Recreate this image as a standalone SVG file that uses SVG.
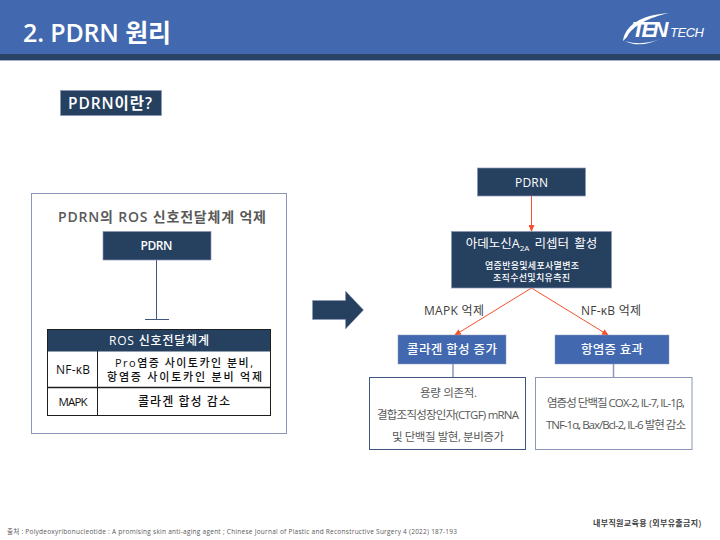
<svg xmlns="http://www.w3.org/2000/svg" width="720" height="540" viewBox="0 0 720 540">
<defs>
<marker id="ah" markerWidth="7" markerHeight="6" refX="6" refY="3" orient="auto" markerUnits="userSpaceOnUse"><path d="M0 0L7 3L0 6Z" fill="#F4512C"/></marker>
</defs>
<style>
text{font-family:"Open Sans","Noto Sans CJK KR","Noto Sans",sans-serif;text-anchor:middle}
.navy{fill:#264060;stroke:#8C96B8;stroke-width:.7}
.blue{fill:#4269B0;stroke:#8C96B8;stroke-width:.5}
.w{fill:#fff}
.g{fill:#595959}
.b{fill:#111}
.wbox{fill:#fff;stroke:#3F5680;stroke-width:1}
.red{stroke:#F4512C;stroke-width:1;fill:none;marker-end:url(#ah)}
.gl{stroke:#8C96B8;stroke-width:1.5;fill:none}
</style>
<g id="header">
<rect x="0" y="0" width="720" height="54" fill="#4269B0"/>
<rect x="0" y="54" width="720" height="6" fill="#2A4466"/>
<rect x="0" y="60" width="720" height="1" fill="#A5ABC8"/>
<text x="97" y="42" font-size="25" font-weight="600" class="w" textLength="148">2. PDRN 원리</text>
</g>
<g id="logo">
<path d="M623 41C625 26 640 15 669 13C650 17 632 26 627 37Z" fill="#fff"/>
<path d="M625 41C638 45 650 43 660 39C650 44 636 47 625 41Z" fill="#fff"/>
<text x="650" y="37" font-size="22" font-weight="700" font-style="italic" class="w" style="font-family:'Liberation Sans',sans-serif" textLength="37">TEN</text>
<text x="687" y="37" font-size="13" font-style="italic" class="w" style="font-family:'Liberation Sans',sans-serif" textLength="34">TECH</text>
</g>
<g id="pdrn-q">
<rect class="navy" x="60.500" y="90.500" width="101" height="25"/>
<text x="110" y="109" font-size="15.500" font-weight="600" class="w" textLength="84">PDRN이란?</text>
</g>
<g id="connectors">
<path class="gl" d="M156.500 260V319" style="stroke:#3F5680;stroke-width:1"/>
<path class="gl" d="M145 319.500H169" style="stroke:#3F5680;stroke-width:1"/>
<path class="red" d="M531.500 196V231"/>
<path class="red" d="M531.500 288L455 335"/>
<path class="red" d="M531.500 288L608 335"/>
<path class="gl" d="M453 364V378"/>
<path class="gl" d="M613.500 364V378"/>
</g>
<g id="left-frame">
<rect x="31.500" y="193.500" width="255" height="240" fill="none" stroke="#8C96B8" stroke-width="1"/>
<text x="162" y="222" font-size="14" font-weight="600" class="g" textLength="208">PDRN의 ROS 신호전달체계 억제</text>
</g>
<g id="left-pdrn">
<rect class="navy" x="103" y="231.500" width="108" height="28.500"/>
<text x="156.500" y="249.500" font-size="12" font-weight="600" class="w" textLength="32">PDRN</text>
</g>
<g id="ros-table">
<rect x="47" y="329.500" width="224" height="22" fill="#264060"/>
<rect x="47.500" y="329.500" width="223" height="86" fill="none" stroke="#1E1E1E" stroke-width="1"/>
<path d="M47 387.500H271" stroke="#1E1E1E" stroke-width="1.500"/>
<path d="M97.500 351V416" stroke="#1E1E1E" stroke-width="1"/>
<text x="159" y="345" font-size="12" font-weight="500" class="w" textLength="100">ROS 신호전달체계</text>
<text x="73" y="374" font-size="12" font-weight="500" class="b" textLength="34">NF-κB</text>
<text x="184" y="366.500" font-size="11" font-weight="500" class="b" textLength="138">Pro염증 사이토카인 분비,</text>
<text x="184.500" y="381" font-size="11" font-weight="500" class="b" textLength="155">항염증 사이토카인 분비 억제</text>
<text x="73" y="406" font-size="11.500" font-weight="500" class="b" textLength="29">MAPK</text>
<text x="184" y="406" font-size="12" font-weight="500" class="b" textLength="92">콜라겐 합성 감소</text>
</g>
<g id="big-arrow">
<path d="M312.500 300.500H345.500V291L363.500 310L345.500 329V319.500H312.500Z" fill="#264060" stroke="#8C96B8" stroke-width=".5"/>
</g>
<g id="right-pdrn">
<rect class="navy" x="477.500" y="168" width="108" height="28"/>
<text x="531.500" y="187" font-size="12" font-weight="500" class="w" textLength="33">PDRN</text>
</g>
<g id="receptor">
<rect class="navy" x="451.500" y="231.500" width="160" height="56.500"/>
<text x="531.500" y="248" font-size="12.500" class="w" word-spacing="2">아데노신A<tspan font-size="8" dy="3">2A</tspan><tspan dy="-3"> 리셉터 활성</tspan></text>
<text x="532" y="269" font-size="9" font-weight="500" class="w" textLength="94">염증반응및세포사멸변조</text>
<text x="531.500" y="281" font-size="9" font-weight="500" class="w" textLength="77">조직수선및치유촉진</text>
</g>
<g id="edge-labels">
<text x="454" y="315" font-size="12" class="g" style="fill:#404040" textLength="60">MAPK 억제</text>
<text x="611" y="315" font-size="12" class="g" style="fill:#404040" textLength="60">NF-κB 억제</text>
</g>
<g id="collagen">
<rect class="blue" x="398" y="335" width="108" height="29"/>
<text x="452" y="354" font-size="12.500" font-weight="500" class="w" textLength="90">콜라겐 합성 증가</text>
</g>
<g id="antiinfl">
<rect class="blue" x="555" y="335" width="114" height="29"/>
<text x="612" y="354" font-size="12.500" font-weight="500" class="w" textLength="62">항염증 효과</text>
</g>
<g id="collagen-note">
<rect class="wbox" x="369.500" y="377.500" width="156" height="72"/>
<text x="448.500" y="397" font-size="11.500" class="g" textLength="57">용량 의존적.</text>
<text x="448" y="419" font-size="11.500" class="g" textLength="142">결합조직성장인자(CTGF) mRNA</text>
<text x="448" y="441" font-size="11.500" class="g" textLength="112">및 단백질 발현, 분비증가</text>
</g>
<g id="antiinfl-note">
<rect class="wbox" x="535.500" y="377.500" width="156.500" height="72" style="stroke:#8C96B8"/>
<text x="616" y="407" font-size="11.500" class="g" textLength="138">염증성 단백질 COX-2, IL-7, IL-1β,</text>
<text x="616" y="429" font-size="11.500" class="g" textLength="140">TNF-1α, Bax/Bcl-2, IL-6 발현 감소</text>
</g>
<g id="footer">
<text x="232" y="534" font-size="6.500" class="g" textLength="450">출처 : Polydeoxyribonucleotide : A promising skin anti-aging agent ; Chinese Journal of Plastic and Reconstructive Surgery 4 (2022) 187-193</text>
<text x="647" y="526" font-size="8" font-weight="600" style="fill:#404040" textLength="108">내부직원교육용 (외부유출금지)</text>
</g>
</svg>
